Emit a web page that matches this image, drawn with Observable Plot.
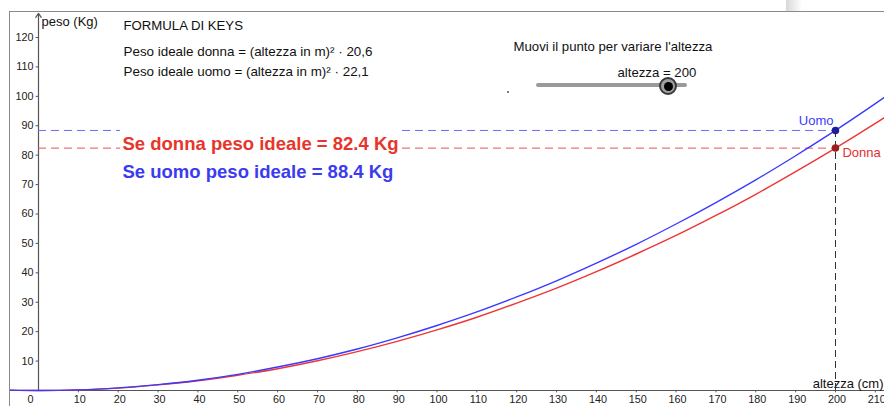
<!DOCTYPE html>
<html><head><meta charset="utf-8">
<script src="https://cdn.jsdelivr.net/npm/d3@7"></script>
<script src="https://cdn.jsdelivr.net/npm/@observablehq/plot@0.6"></script>
<style>
body{margin:0;background:#fff;font-family:"Liberation Sans",Arial,sans-serif;}
#wrap{position:relative;width:884px;height:406px;overflow:hidden;background:#fff;}
#frame{position:absolute;left:9px;top:11px;width:880px;height:400px;border-top:1px solid #8a8a8a;border-left:1px solid #8a8a8a;}
#chart{position:absolute;left:10px;top:12px;}
.shadow{position:absolute;left:786px;top:0;width:16px;height:11px;background:linear-gradient(to right,#d8d8d8,#fff);}
.track{position:absolute;left:536px;top:83px;width:151px;height:4px;background:#9a9a9a;border-radius:2px;}
.knob{position:absolute;left:659px;top:77px;width:14px;height:14px;border:2px solid #3a3a3a;background:#a0a0a0;border-radius:50%;}
.knob div{position:absolute;left:2.5px;top:2.5px;width:9px;height:9px;background:#000;border-radius:50%;}
.pt{position:absolute;left:507px;top:91px;width:2px;height:2px;background:#555;border-radius:50%;}
</style></head><body>
<div id="wrap"><div class="shadow"></div><div id="frame"></div><div id="chart"></div>
<div class="track"></div><div class="knob"><div></div></div><div class="pt"></div></div>
<script>
// altezza (cm)
const altezza   = [-10, 0, 10, 20, 30, 40, 50, 60, 70, 80, 90, 100, 110, 120, 130, 140, 150, 160, 170, 180, 190, 200, 210, 215];
// peso ideale donna (kg)
const pesoDonna = [0.2, 0, 0.2, 0.8, 1.9, 3.3, 5.2, 7.4, 10.1, 13.2, 16.7, 20.6, 24.9, 29.7, 34.8, 40.4, 46.4, 52.7, 59.5, 66.7, 74.4, 82.4, 90.8, 95.2];
// peso ideale uomo (kg)
const pesoUomo  = [0.2, 0, 0.2, 0.9, 2.0, 3.5, 5.5, 8.0, 10.8, 14.1, 17.9, 22.1, 26.7, 31.8, 37.3, 43.3, 49.7, 56.6, 63.9, 71.6, 79.8, 88.4, 97.5, 102.2];
const xTicks = [10, 20, 30, 40, 50, 60, 70, 80, 90, 100, 110, 120, 130, 140, 150, 160, 170, 180, 190, 200, 210];
const yTicks = [10, 20, 30, 40, 50, 60, 70, 80, 90, 100, 110, 120];
const altezzaScelta = 200;
const pesoDonnaScelto = 82.4;
const pesoUomoScelto = 88.4;
const titolo = "FORMULA DI KEYS";
const formule = ["Peso ideale donna = (altezza in m)² · 20,6", "Peso ideale uomo = (altezza in m)² · 22,1"];
const istruzione = "Muovi il punto per variare l'altezza";

const RED = "#ee3535", BLUE = "#3a3aff";
const donna = altezza.map((h, i) => ({h, p: pesoDonna[i]}));
const uomo = altezza.map((h, i) => ({h, p: pesoUomo[i]}));
const font = "Liberation Sans, Arial, sans-serif";

const whiteBox = () => {
  const r = document.createElementNS("http://www.w3.org/2000/svg", "rect");
  r.setAttribute("x", 110); r.setAttribute("y", 115);
  r.setAttribute("width", 280); r.setAttribute("height", 58);
  r.setAttribute("fill", "white");
  return r;
};

const chart = Plot.plot({
  width: 874, height: 394,
  marginLeft: 0, marginRight: 0, marginTop: 0, marginBottom: 0,
  style: {fontFamily: font, background: "transparent", overflow: "visible"},
  x: {domain: [-7.026, 212.30], axis: null},
  y: {domain: [-5.439, 128.50], axis: null},
  marks: [
    Plot.ruleY([0], {stroke: "#555", strokeWidth: 1.2}),
    Plot.arrow([0], {x1: 0, y1: 0, x2: 0, y2: 128.2, stroke: "#555", strokeWidth: 1.2, headLength: 6, headAngle: 70}),
    Plot.ruleX(xTicks, {x: d => d, y1: 0, y2: -0.8, stroke: "#555"}),
    Plot.ruleY(yTicks, {y: d => d, x1: 0, x2: -0.6, stroke: "#555"}),
    Plot.text(xTicks, {x: d => d, y: 0, dy: 9, dx: 1.5, text: d => String(d), fontSize: 10.8, fill: "#222"}),
    Plot.text([0], {x: 0, y: 0, dy: 9, dx: -8, text: d => String(d), fontSize: 10.8, fill: "#222"}),
    Plot.text(yTicks, {x: 0, y: d => d, dx: -5, text: d => String(d), textAnchor: "end", fontSize: 10.8, fill: "#222"}),
    Plot.text(["peso (Kg)"], {x: 0, frameAnchor: "top", dx: 3, dy: 9.5, textAnchor: "start", lineAnchor: "middle", fontSize: 13, fill: "#111"}),
    Plot.text(["altezza (cm)"], {y: 0, frameAnchor: "right", dx: -1, dy: -7, textAnchor: "end", lineAnchor: "middle", fontSize: 13, fill: "#111"}),
    // dashed guides
    Plot.ruleY([pesoUomoScelto], {x1: 0, x2: altezzaScelta, stroke: "#6a6aff", strokeWidth: 1, strokeDasharray: "8,5"}),
    Plot.ruleY([pesoDonnaScelto], {x1: 0, x2: altezzaScelta, stroke: "#e05555", strokeWidth: 1, strokeDasharray: "8,5"}),
    Plot.ruleX([altezzaScelta], {y1: 0, y2: pesoUomoScelto, stroke: "#333", strokeWidth: 1, strokeDasharray: "7,4"}),
    whiteBox,
    // curves
    Plot.line(donna, {x: "h", y: "p", stroke: RED, strokeWidth: 1.4, curve: "catmull-rom", clip: true}),
    Plot.line(uomo, {x: "h", y: "p", stroke: BLUE, strokeWidth: 1.4, curve: "catmull-rom", clip: true}),
    Plot.dot([pesoUomoScelto], {x: altezzaScelta, y: d => d, r: 3, fill: "#1d1d9a", stroke: "#1d1d9a"}),
    Plot.dot([pesoDonnaScelto], {x: altezzaScelta, y: d => d, r: 3, fill: "#9a2020", stroke: "#9a2020"}),
    Plot.text(["Uomo"], {x: altezzaScelta, y: pesoUomoScelto, dx: -2, dy: -10, textAnchor: "end", fontSize: 13, fill: BLUE}),
    Plot.text(["Donna"], {x: altezzaScelta, y: pesoDonnaScelto, dx: 7, dy: 5, textAnchor: "start", fontSize: 13, fill: "#e03030"}),
    // annotations
    Plot.text([titolo], {frameAnchor: "top-left", dx: 113, dy: 13, lineAnchor: "middle", fontSize: 13.2, fill: "#111"}),
    Plot.text([formule[0]], {frameAnchor: "top-left", dx: 113, dy: 39, lineAnchor: "middle", fontSize: 13.4, fill: "#111"}),
    Plot.text([formule[1]], {frameAnchor: "top-left", dx: 113, dy: 59, lineAnchor: "middle", fontSize: 13.4, fill: "#111"}),
    Plot.text([istruzione], {frameAnchor: "top-left", dx: 503, dy: 34, lineAnchor: "middle", fontSize: 13.2, fill: "#111"}),
    Plot.text(["altezza = " + altezzaScelta], {frameAnchor: "top-left", dx: 607, dy: 60.5, lineAnchor: "middle", fontSize: 13.2, fill: "#111"}),
    Plot.text(["Se donna peso ideale = " + pesoDonnaScelto.toFixed(1) + " Kg"], {frameAnchor: "top-left", dx: 112, dy: 132, lineAnchor: "middle", fontSize: 18.5, fontWeight: "bold", fill: "#e8352b"}),
    Plot.text(["Se uomo peso ideale = " + pesoUomoScelto.toFixed(1) + " Kg"], {frameAnchor: "top-left", dx: 112, dy: 160, lineAnchor: "middle", fontSize: 18.5, fontWeight: "bold", fill: "#3b3bf0"})
  ]
});
document.getElementById("chart").appendChild(chart);
</script>
</body></html>
